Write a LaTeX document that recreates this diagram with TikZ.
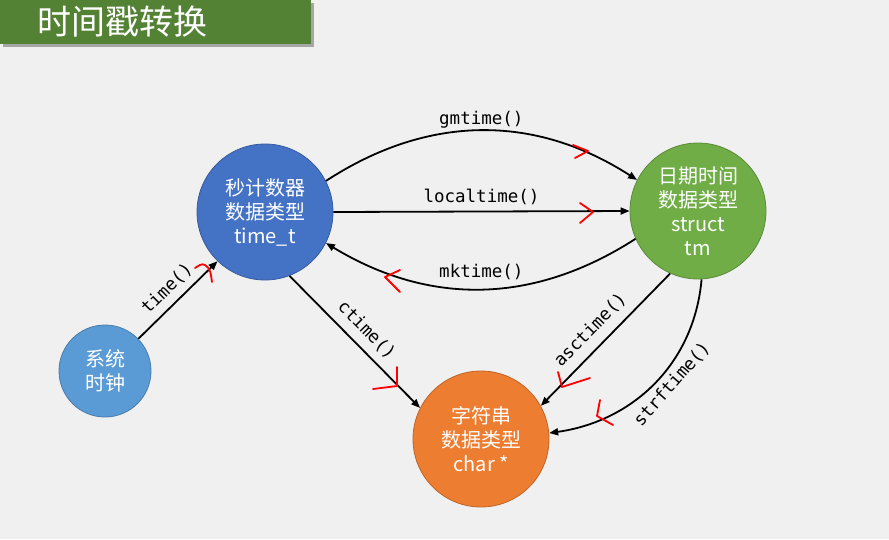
\documentclass[tikz,border=0pt]{standalone}
\usepackage{fontspec}
\setmainfont{Noto Sans CJK SC}
\setmonofont{DejaVu Sans Mono}
\usepackage{tikz}
\usetikzlibrary{arrows.meta,positioning}
\definecolor{bgray}{HTML}{F0F0F0}
\definecolor{tgreen}{HTML}{548235}
\definecolor{cblue}{HTML}{4472C4}
\definecolor{lblue}{HTML}{5B9BD5}
\definecolor{cgreen}{HTML}{70AD47}
\definecolor{corange}{HTML}{ED7D31}
\tikzset{
  state/.style={circle,inner sep=0pt,align=center,text=white,
    font=\fontsize{20}{24}\selectfont,line width=0.8pt},
  func/.style={font=\ttfamily\fontsize{17.5}{19}\selectfont,inner sep=2pt},
  conv/.style={-{Triangle[length=9pt,width=7pt]},line width=1.8pt},
  redmark/.style={red,line width=1.8pt,line cap=round,line join=round}
}
\begin{document}
\begin{tikzpicture}[x=1pt,y=-1pt]
  \fill[bgray] (0,0) rectangle (889,539);
  \useasboundingbox (0,0) rectangle (889,539);
  \fill[gray!70] (3,3) rectangle (314,47);
  \fill[tgreen] (0,0) rectangle (311,44);
  \node[text=white,font=\fontsize{34}{36}\selectfont] (title) at (122,22) {时间戳转换};

  \node[state,fill=cblue,draw=cblue!80!black,minimum size=136pt] (sec) at (265,212)
    {秒计数器\\数据类型\\time\_t};
  \node[state,fill=cgreen,draw=cgreen!80!black,minimum size=136pt] (tm) at (698,211)
    {日期时间\\数据类型\\struct\\tm};
  \node[state,fill=lblue,draw=lblue!80!black,minimum size=92pt] (clock) at (105,371)
    {系统\\时钟};
  \node[state,fill=corange,draw=corange!80!black,minimum size=136pt] (str) at (481,439)
    {字符串\\数据类型\\char *};

  \draw[conv] (clock.44) -- node[func,sloped,above=5pt] {time()} (sec.226);
  \draw[conv] (sec.27) to[bend left=33] node[func,above] {gmtime()} (tm.153);
  \draw[conv] (sec.east) -- node[func,above=4pt] {localtime()} (tm.west);
  \draw[conv] (tm.204) to[bend left=32] node[func,above=6pt] {mktime()} (sec.-27);
  \draw[conv] (sec.-69) -- node[func,sloped,above=6pt,pos=0.5] {ctime()} (str.153);
  \draw[conv] (tm.246) -- node[func,sloped,above=7pt,pos=0.52] {asctime()} (str.29);
  \draw[conv] (tm.273) to[out=-95,in=8] node[func,sloped,below=3pt,pos=0.45] {strftime()} (str.5);

  \draw[redmark] (573,145) -- (588,151) -- (575,158);
  \draw[redmark] (580,203) -- (593,212) -- (580,223);
  \draw[redmark] (400,270) -- (385,277) -- (400,292);
  \draw[redmark] (195,268) to[out=30,in=150] (205,265) to[out=-30,in=100] (212,282);
  \draw[redmark] (397,367) -- (397,386) -- (373,389);
  \draw[redmark] (558,372) -- (562,387) -- (590,378);
  \draw[redmark] (600,400) -- (597,416) -- (613,425);
\end{tikzpicture}
\end{document}
